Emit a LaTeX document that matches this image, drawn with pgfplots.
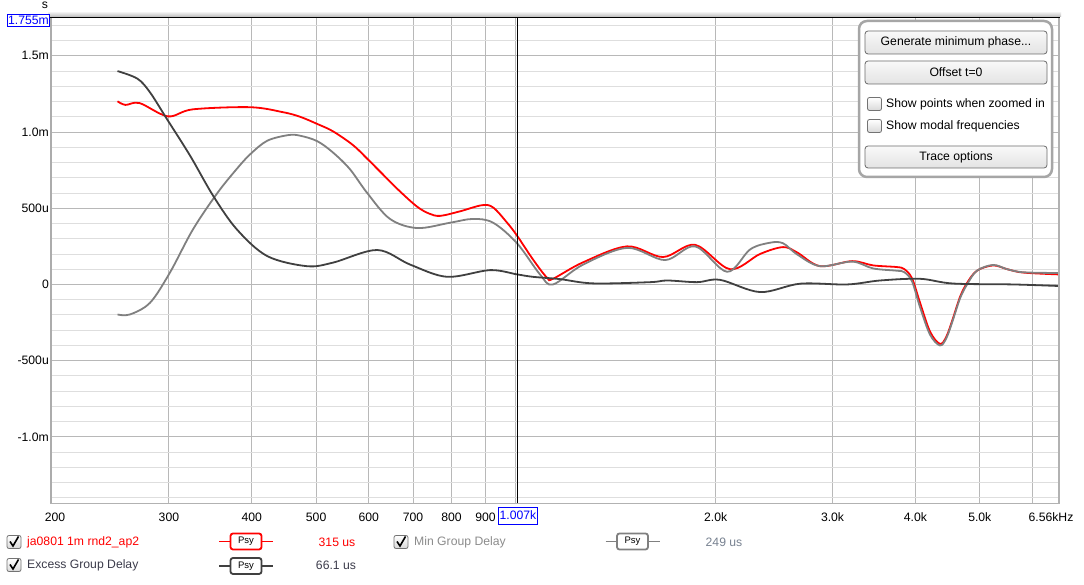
\documentclass[border=0pt]{standalone}
\usepackage{fontspec}
\setmainfont{Liberation Sans}
\usepackage{pgfplots}
\pgfplotsset{compat=1.18}
\usetikzlibrary{shadings}
\definecolor{rewred}{RGB}{255,0,0}
\definecolor{rewgray}{RGB}{128,128,128}
\definecolor{rewdark}{RGB}{64,64,64}
\definecolor{gridmaj}{RGB}{184,184,184}
\definecolor{gridmin}{RGB}{222,222,222}
\definecolor{mintxt}{RGB}{140,140,140}
\definecolor{exctxt}{RGB}{60,60,75}
\definecolor{val2}{RGB}{120,130,145}
\newcommand{\chkbox}[3]{%
  \begin{scope}[shift={(#1pt,#2pt)}]
    \draw[rounded corners=2pt, draw=gray!90!black, line width=0.8pt, top color=white, bottom color=gray!30] (-7pt,-6.5pt) rectangle (7pt,6.5pt);
    \ifx#3y\draw[line width=1.6pt, black] (-4pt,0.5pt) -- (-1pt,-4pt) -- (4.5pt,5.5pt);\fi
  \end{scope}}
\newcommand{\psybox}[3]{%
  \begin{scope}[shift={(#1pt,#2pt)}]
    \draw[#3, line width=1.8pt] (-27pt,0) -- (27pt,0);
    \draw[#3, line width=1.8pt, fill=white, rounded corners=2.5pt] (-15.5pt,-8pt) rectangle (15.5pt,8pt);
    \node[font=\fontsize{9.5}{10}\selectfont, text=black] at (0,0) {Psy};
  \end{scope}}
\newcommand{\rewbutton}[3]{%
  \draw[rounded corners=3pt, draw=gray!85!black, line width=0.8pt, top color=gray!5, bottom color=gray!22] (865pt,#1pt) rectangle (1047pt,#2pt);
  \node at (956pt,{(#1+#2)/2*1pt}) {#3};}
\begin{document}
\begin{tikzpicture}[font=\fontsize{12.2}{14}\selectfont]
\useasboundingbox (0,0) rectangle (1084pt,585pt);
\fill[white] (0,0) rectangle (1084pt,585pt);
\begin{axis}[
  at={(52pt,82pt)}, anchor=south west,
  scale only axis, width=1006pt, height=486pt,
  xmode=log, xmin=200, xmax=6560, ymin=-1.434, ymax=1.755,
  axis line style={draw=none},
  major tick length=0pt, minor tick length=0pt,
  xtick={300,400,500,600,700,800,900,1000,2000,3000,4000,5000,6000},
  xticklabels={300,400,500,600,700,800,900,,2.0k,3.0k,4.0k,5.0k,},
  ytick={-1,-0.5,0,0.5,1,1.5},
  yticklabels={-1.0m,-500u,0,500u,1.0m,1.5m},
  minor ytick={-1.4,-1.3,-1.2,-1.1,-0.9,-0.8,-0.7,-0.6,-0.4,-0.3,-0.2,-0.1,0.1,0.2,0.3,0.4,0.6,0.7,0.8,0.9,1.1,1.2,1.3,1.4,1.6,1.7},
  xmajorgrids=true, ymajorgrids=true, yminorgrids=true,
  major grid style={draw=gridmaj, line width=0.9pt},
  minor grid style={draw=gridmin, line width=0.9pt},
  xticklabel style={anchor=center, yshift=-14pt, font=\fontsize{12.2}{14}\selectfont},
  yticklabel style={anchor=east, inner sep=0pt, xshift=-3pt, font=\fontsize{12.2}{14}\selectfont},
]
\addplot[rewred, line width=1.8pt, smooth, tension=0.55] coordinates {
(251,1.202) (258,1.178) (271,1.19) (299,1.103) (326,1.149) (398,1.163) (446,1.13)
(473,1.10) (502,1.053) (530,1.005) (568,0.915) (597,0.825) (631,0.72) (669,0.61)
(710,0.51) (740,0.465) (769,0.45) (824,0.48) (889,0.52) (924,0.505) (970,0.405) (1004,0.32)
(1061,0.164) (1114,0.044) (1137,0.037) (1262,0.145) (1471,0.25) (1666,0.18)
(1862,0.26) (2102,0.10) (2333,0.20) (2527,0.245) (2653,0.21) (2872,0.12)
(3211,0.153) (3453,0.125) (3753,0.114) (3850,0.10) (3953,0.04) (4064,-0.12)
(4208,-0.31) (4356,-0.39) (4455,-0.34) (4557,-0.22) (4670,-0.08) (4784,0.01)
(4950,0.09) (5237,0.125) (5500,0.10) (5811,0.078) (6560,0.066)};
\addplot[rewgray, line width=1.8pt, smooth, tension=0.55] coordinates {
(251,-0.197) (262,-0.197) (281,-0.12) (301,0.077) (326,0.36) (355,0.60) (380,0.76)
(398,0.855) (422,0.943) (454,0.98) (473,0.976) (502,0.94) (530,0.866) (562,0.757)
(597,0.6) (646,0.43) (710,0.37) (796,0.405) (862,0.43) (924,0.405) (1004,0.27)
(1087,0.066) (1137,0.0) (1262,0.13) (1471,0.24) (1678,0.16) (1862,0.25) (2081,0.083)
(2254,0.23) (2416,0.274) (2527,0.27) (2653,0.197) (2872,0.12) (3211,0.15) (3453,0.105)
(3753,0.09) (3850,0.08) (3953,0.02) (4064,-0.15) (4208,-0.33) (4356,-0.40)
(4455,-0.35) (4557,-0.23) (4670,-0.09) (4784,0.0) (4950,0.09) (5237,0.128)
(5500,0.10) (5811,0.08) (6560,0.075)};
\addplot[rewdark, line width=1.8pt, smooth, tension=0.55] coordinates {
(251,1.40) (269,1.35) (281,1.26) (298,1.085) (323,0.844) (350,0.58) (380,0.36)
(422,0.186) (484,0.12) (530,0.143) (618,0.226) (693,0.13) (788,0.05) (914,0.094)
(1004,0.066) (1061,0.05) (1165,0.035) (1307,0.007) (1593,0.015) (1690,0.026)
(1875,0.015) (2031,0.03) (2333,-0.05) (2681,0.005) (3156,0.0) (3538,0.026)
(4064,0.037) (4557,0.006) (5613,0.0) (6560,-0.01)};
\addplot[black, line width=1pt] coordinates {(1007,-1.6) (1007,1.9)};
\end{axis}
% frame
\fill[top color=white, bottom color=gray!55] (48pt,568pt) rectangle (1061pt,574pt);
\draw[black, line width=1.6pt] (49pt,567.6pt) -- (1060pt,567.6pt);
\draw[gray!65, line width=2.6pt] (50.8pt,567pt) -- (50.8pt,80.5pt);
\draw[gray!60, line width=1.6pt] (50pt,81.3pt) -- (1060pt,81.3pt);
\draw[gray!60, line width=1.6pt] (1059pt,567pt) -- (1059pt,80.5pt);
% axis extra labels
\node at (45pt,580pt) {s};
\node[draw=blue, text=blue, fill=white, inner sep=1pt, minimum height=12pt, line width=0.8pt] at (28.5pt,564.5pt) {1.755m};
\node at (55pt,68pt) {200};
\node at (1051pt,68pt) {6.56kHz};
\node[draw=blue, text=blue, fill=white, inner xsep=1.5pt, inner ysep=1pt, minimum height=17pt, line width=0.8pt] at (518pt,69.5pt) {1.007k};
% legend
\chkbox{14}{43}{y}
\node[anchor=west, inner sep=0pt, text=rewred] at (27pt,43pt) {ja0801 1m rnd2\_ap2};
\psybox{246}{43.5}{rewred}
\node[text=rewred] at (337pt,43pt) {315 us};
\chkbox{401}{43}{y}
\node[anchor=west, inner sep=0pt, text=mintxt] at (414pt,43pt) {Min Group Delay};
\psybox{632.5}{43.5}{rewgray}
\node[text=val2] at (724pt,43pt) {249 us};
\chkbox{14}{20}{y}
\node[anchor=west, inner sep=0pt, text=exctxt] at (27pt,19.5pt) {Excess Group Delay};
\psybox{246}{19}{rewdark}
\node[text=exctxt] at (336pt,19.5pt) {66.1 us};
% panel
\draw[line width=2.5pt, draw=gray!70, fill=white, rounded corners=8pt] (859pt,564pt) rectangle (1052pt,408pt);
\rewbutton{554}{531}{Generate minimum phase...}
\rewbutton{524}{501}{Offset t=0}
\rewbutton{439}{417}{Trace options}
\chkbox{874.5}{481}{n}
\node[anchor=west, inner sep=0pt] at (886pt,481pt) {Show points when zoomed in};
\chkbox{874.5}{459}{n}
\node[anchor=west, inner sep=0pt] at (886pt,459pt) {Show modal frequencies};
\end{tikzpicture}
\end{document}
